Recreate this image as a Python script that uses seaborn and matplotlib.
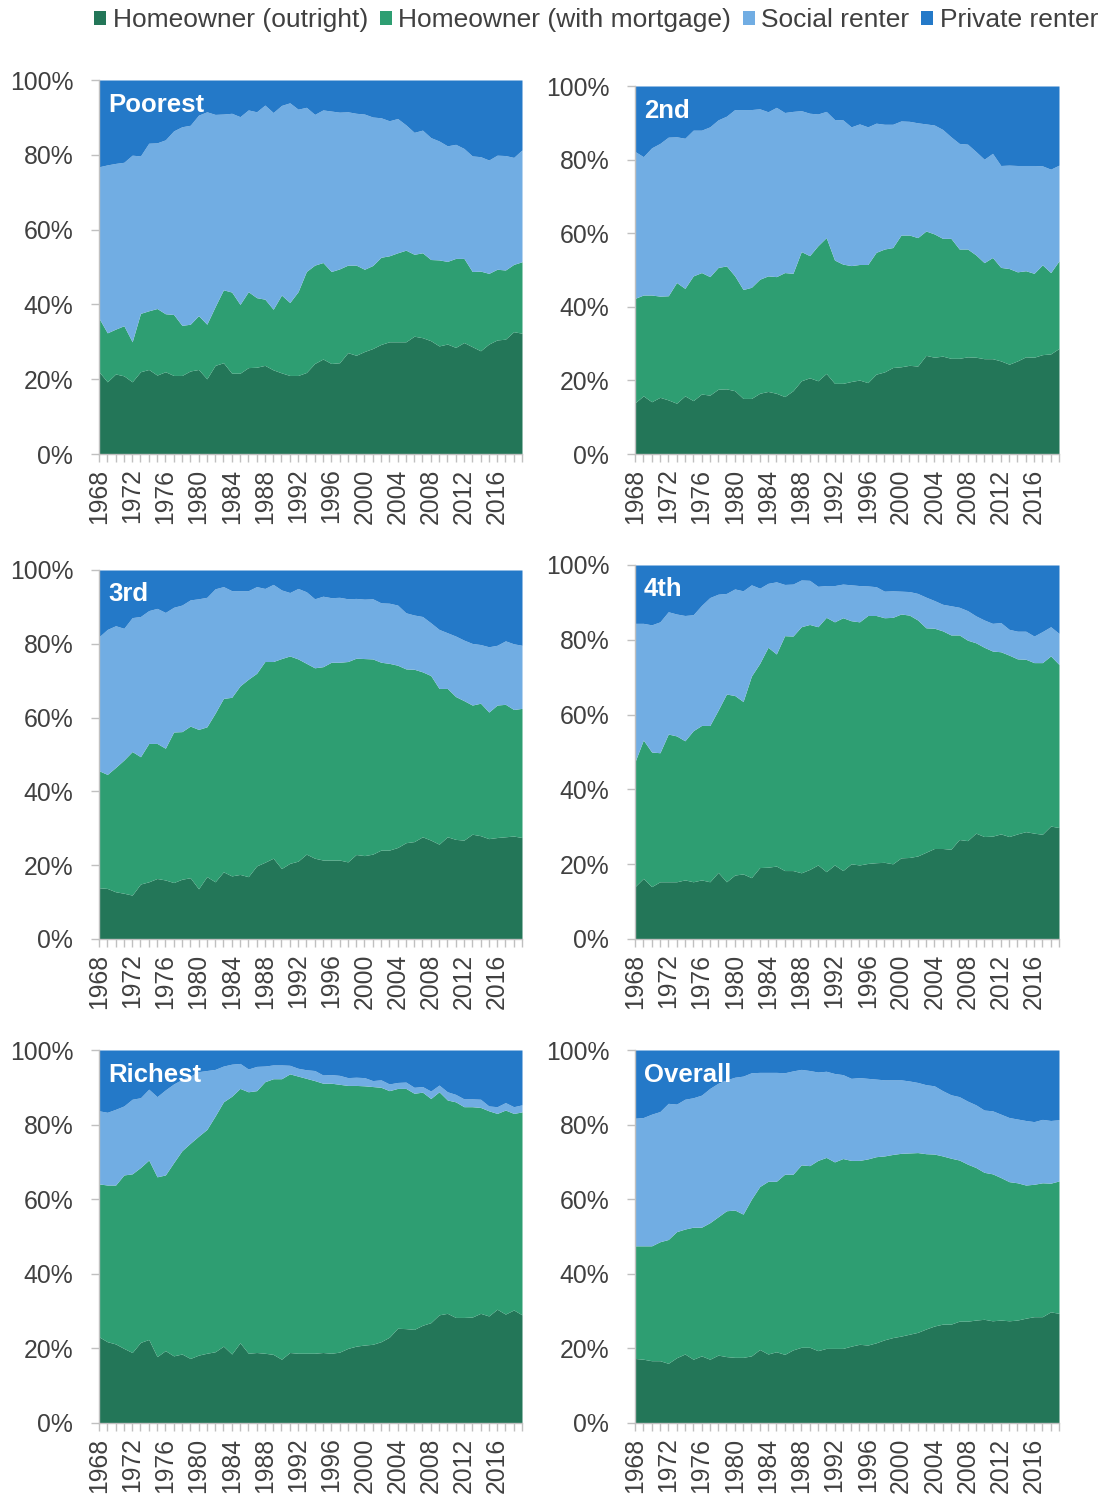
import matplotlib
matplotlib.use("Agg")
import matplotlib.pyplot as plt
import seaborn as sns
import pandas as pd
from matplotlib.patches import Patch
from matplotlib.ticker import MultipleLocator, FixedLocator

# Tenure shares (%) by income group, 1968-2019
years = list(range(1968, 2020))
tenures = ["Homeowner (outright)", "Homeowner (with mortgage)", "Social renter", "Private renter"]
colors = ["#237658", "#2e9e72", "#71ade3", "#2479c8"]

poorest_outright = [22.0, 19.3, 21.4, 20.9, 19.3, 22.0, 22.6, 21.1, 22.0, 21.0, 21.0, 22.2, 22.6, 20.1, 23.7, 24.4, 21.6, 21.6, 23.1, 23.2, 23.7, 22.5, 21.7, 21.0, 21.0, 21.8, 24.2, 25.4, 24.2, 24.4, 27.1, 26.4, 27.4, 28.2, 29.3, 30.0, 30.0, 30.0, 31.5, 31.1, 30.3, 28.9, 29.4, 28.5, 29.8, 28.7, 27.6, 29.4, 30.5, 30.7, 32.7, 32.3]
poorest_mortgage = [14.3, 13.1, 12.0, 13.4, 10.7, 15.6, 15.7, 17.8, 15.5, 16.3, 13.4, 12.5, 14.4, 14.6, 15.7, 19.5, 21.7, 18.4, 20.3, 18.6, 17.7, 16.2, 20.8, 19.5, 22.4, 27.0, 26.3, 25.8, 24.6, 25.1, 23.4, 24.1, 22.0, 22.2, 23.3, 23.0, 23.8, 24.5, 21.9, 22.7, 21.7, 23.0, 22.1, 23.8, 22.5, 20.1, 21.3, 18.9, 18.9, 18.5, 18.0, 19.1]
poorest_social = [40.5, 44.9, 44.3, 43.7, 49.9, 42.1, 44.8, 44.3, 46.5, 49.1, 53.1, 53.2, 53.6, 56.8, 51.4, 47.0, 47.8, 50.2, 48.6, 49.7, 51.9, 52.6, 50.7, 53.4, 48.8, 43.9, 40.3, 40.8, 42.9, 41.9, 41.0, 40.6, 41.5, 39.7, 37.3, 36.1, 35.9, 33.5, 32.6, 32.8, 32.6, 31.8, 30.9, 30.5, 29.4, 30.9, 30.6, 30.3, 30.5, 30.6, 28.6, 29.9]
poorest_private = [23.2, 22.7, 22.3, 22.0, 20.1, 20.3, 16.9, 16.8, 16.0, 13.6, 12.5, 12.1, 9.4, 8.5, 9.2, 9.1, 8.9, 9.8, 8.0, 8.5, 6.7, 8.7, 6.8, 6.1, 7.8, 7.3, 9.2, 8.0, 8.3, 8.6, 8.5, 8.9, 9.1, 9.9, 10.1, 10.9, 10.3, 12.0, 14.0, 13.4, 15.4, 16.3, 17.6, 17.2, 18.3, 20.3, 20.5, 21.4, 20.1, 20.2, 20.7, 18.7]

second_outright = [13.9, 15.8, 14.2, 15.4, 14.7, 13.8, 15.8, 14.5, 16.3, 16.0, 17.6, 17.7, 17.2, 15.1, 15.1, 16.5, 17.0, 16.5, 15.6, 17.2, 19.9, 20.7, 19.9, 21.9, 19.2, 19.2, 19.7, 20.1, 19.4, 21.7, 22.3, 23.5, 23.7, 24.1, 23.9, 26.8, 26.3, 26.6, 26.0, 26.0, 26.4, 26.3, 25.9, 25.9, 25.3, 24.4, 25.3, 26.4, 26.3, 27.0, 27.2, 28.7]
second_mortgage = [28.4, 27.4, 29.0, 27.5, 28.3, 32.8, 29.2, 33.9, 33.0, 32.2, 33.1, 33.4, 31.2, 29.6, 30.2, 31.0, 31.4, 31.7, 33.7, 31.9, 35.1, 33.2, 36.7, 36.9, 33.5, 32.4, 31.5, 31.4, 32.1, 33.1, 33.4, 32.6, 35.8, 35.4, 34.9, 33.8, 33.5, 32.0, 32.6, 29.7, 29.3, 27.8, 26.1, 27.5, 25.4, 26.0, 24.2, 23.4, 22.8, 24.4, 22.1, 23.8]
second_social = [39.9, 37.6, 40.0, 41.5, 43.1, 39.6, 40.8, 39.6, 38.7, 40.7, 40.1, 40.7, 45.2, 48.9, 48.3, 46.3, 44.6, 46.0, 43.5, 44.0, 38.3, 38.7, 35.8, 34.3, 38.2, 39.2, 37.7, 38.2, 37.4, 35.1, 33.9, 33.5, 31.0, 30.9, 31.2, 29.1, 29.6, 29.6, 27.6, 28.7, 28.5, 28.1, 28.1, 28.3, 27.7, 28.1, 28.9, 28.6, 29.3, 26.9, 28.1, 26.0]
second_private = [17.8, 19.2, 16.8, 15.6, 13.9, 13.8, 14.2, 12.0, 12.0, 11.1, 9.2, 8.2, 6.4, 6.4, 6.4, 6.2, 7.0, 5.8, 7.2, 6.9, 6.7, 7.4, 7.6, 6.9, 9.1, 9.2, 11.1, 10.3, 11.1, 10.1, 10.4, 10.4, 9.5, 9.6, 10.0, 10.3, 10.6, 11.8, 13.8, 15.6, 15.8, 17.8, 19.9, 18.3, 21.6, 21.5, 21.6, 21.6, 21.6, 21.7, 22.6, 21.5]

third_outright = [13.9, 13.7, 12.8, 12.4, 11.9, 14.9, 15.5, 16.4, 16.0, 15.3, 16.2, 16.6, 13.6, 16.9, 15.5, 18.2, 17.1, 17.5, 16.9, 19.8, 20.8, 21.9, 19.1, 20.5, 21.1, 23.0, 21.9, 21.4, 21.4, 21.4, 20.9, 22.9, 22.6, 23.0, 24.1, 24.1, 24.8, 26.1, 26.4, 27.7, 26.8, 25.7, 27.7, 27.0, 26.8, 28.4, 28.0, 27.2, 27.5, 27.7, 27.9, 27.5]
third_mortgage = [31.7, 30.9, 33.7, 36.1, 38.9, 34.5, 37.5, 36.6, 35.7, 40.8, 40.0, 41.1, 43.2, 40.6, 45.7, 47.0, 48.4, 51.1, 53.5, 52.2, 54.4, 53.3, 56.9, 56.2, 54.8, 51.7, 51.6, 52.4, 53.6, 53.6, 54.3, 53.2, 53.4, 52.9, 50.9, 50.6, 49.4, 47.1, 46.7, 44.7, 44.6, 42.2, 40.2, 38.7, 37.8, 35.0, 35.9, 34.3, 35.9, 35.9, 34.3, 35.0]
third_social = [36.3, 39.3, 38.4, 35.7, 36.3, 38.0, 36.0, 36.6, 36.8, 33.8, 34.3, 34.2, 35.4, 35.1, 33.7, 30.3, 28.9, 25.8, 24.0, 23.5, 19.8, 20.9, 18.6, 17.2, 19.1, 19.4, 18.7, 19.1, 17.5, 17.6, 17.0, 16.2, 16.1, 16.3, 16.1, 16.3, 16.3, 15.2, 14.7, 15.0, 14.3, 16.0, 15.1, 16.4, 16.4, 16.7, 15.9, 17.7, 16.2, 17.2, 17.8, 17.1]
third_private = [18.1, 16.1, 15.1, 15.8, 12.9, 12.6, 11.0, 10.4, 11.5, 10.1, 9.5, 8.1, 7.8, 7.4, 5.1, 4.5, 5.6, 5.6, 5.6, 4.5, 5.0, 3.9, 5.4, 6.1, 5.0, 5.9, 7.8, 7.1, 7.5, 7.4, 7.8, 7.7, 7.9, 7.8, 8.9, 9.0, 9.5, 11.6, 12.2, 12.6, 14.3, 16.1, 17.0, 17.9, 19.0, 19.9, 20.2, 20.8, 20.4, 19.2, 20.0, 20.4]

fourth_outright = [14.0, 16.2, 14.0, 15.3, 15.3, 15.3, 15.8, 15.3, 15.8, 15.3, 17.8, 15.3, 17.1, 17.4, 16.4, 19.1, 19.2, 19.5, 18.3, 18.3, 17.7, 18.6, 19.8, 18.0, 19.8, 18.3, 20.1, 19.8, 20.2, 20.4, 20.5, 20.1, 21.7, 21.8, 22.2, 23.2, 24.2, 24.2, 24.0, 26.6, 26.3, 28.3, 27.4, 27.5, 28.1, 27.4, 28.1, 28.7, 28.3, 28.0, 30.2, 29.8]
fourth_mortgage = [33.4, 37.0, 36.0, 34.5, 39.5, 39.0, 37.2, 40.4, 41.3, 41.8, 43.4, 50.2, 48.0, 46.1, 53.9, 54.6, 58.8, 56.7, 62.8, 62.7, 65.8, 65.5, 63.7, 68.0, 65.0, 67.6, 65.0, 65.0, 66.3, 66.1, 65.4, 65.9, 65.2, 64.8, 63.1, 60.0, 58.9, 58.2, 57.3, 54.7, 53.6, 50.9, 50.6, 49.5, 48.7, 48.5, 46.8, 46.1, 45.6, 45.9, 45.5, 43.6]
fourth_social = [37.0, 31.2, 34.0, 35.0, 32.7, 32.6, 33.5, 31.0, 32.1, 34.2, 31.0, 26.9, 28.5, 29.6, 24.4, 20.1, 17.1, 19.3, 13.7, 13.9, 12.5, 11.8, 10.8, 8.5, 9.7, 9.0, 9.6, 9.7, 7.9, 7.7, 7.1, 7.1, 6.1, 6.3, 7.1, 8.2, 7.4, 7.1, 7.8, 7.4, 7.9, 7.2, 7.3, 7.4, 7.8, 6.9, 7.4, 7.5, 7.1, 8.3, 7.8, 8.3]
fourth_private = [15.6, 15.6, 16.0, 15.2, 12.5, 13.1, 13.5, 13.3, 10.8, 8.7, 7.8, 7.6, 6.4, 6.9, 5.3, 6.2, 4.9, 4.5, 5.2, 5.1, 4.0, 4.1, 5.7, 5.5, 5.5, 5.1, 5.3, 5.5, 5.6, 5.8, 7.0, 6.9, 7.0, 7.1, 7.6, 8.6, 9.5, 10.5, 10.9, 11.3, 12.2, 13.6, 14.7, 15.6, 15.4, 17.2, 17.7, 17.7, 19.0, 17.8, 16.5, 18.3]

richest_outright = [23.1, 21.8, 21.2, 20.0, 18.9, 21.6, 22.4, 17.8, 19.4, 18.0, 18.5, 17.3, 18.2, 18.7, 19.1, 20.6, 18.5, 21.5, 18.7, 18.9, 18.7, 18.4, 17.1, 18.9, 18.7, 18.7, 18.7, 18.9, 18.7, 19.0, 20.0, 20.6, 20.9, 21.1, 21.8, 23.0, 25.4, 25.3, 25.1, 26.2, 26.9, 29.0, 29.4, 28.3, 28.3, 28.4, 29.4, 28.7, 30.5, 29.2, 30.3, 29.0]
richest_mortgage = [41.0, 42.0, 42.6, 46.5, 47.9, 46.9, 48.1, 48.2, 47.1, 51.8, 54.5, 57.7, 58.7, 60.0, 63.2, 65.5, 69.1, 68.2, 70.1, 70.2, 72.8, 73.9, 75.2, 74.7, 74.3, 73.7, 73.1, 72.2, 72.4, 71.8, 70.5, 69.9, 69.5, 69.1, 68.2, 66.1, 64.3, 64.4, 63.3, 62.5, 60.1, 59.8, 57.2, 57.8, 56.5, 56.4, 55.2, 55.0, 52.5, 54.7, 52.7, 54.4]
richest_social = [19.6, 19.5, 20.3, 18.5, 20.0, 18.7, 19.0, 21.5, 22.8, 21.1, 19.1, 18.0, 17.3, 15.8, 12.5, 9.6, 8.6, 6.7, 6.1, 6.5, 4.2, 3.7, 3.7, 2.3, 2.1, 2.3, 2.7, 2.2, 2.3, 2.4, 2.1, 2.2, 2.2, 1.6, 2.0, 1.8, 1.6, 1.7, 1.6, 1.5, 2.0, 1.8, 2.2, 2.0, 2.1, 2.1, 2.2, 1.3, 1.8, 2.0, 1.8, 1.9]
richest_private = [16.3, 16.7, 15.9, 15.0, 13.2, 12.8, 10.5, 12.5, 10.7, 9.1, 7.9, 7.0, 5.8, 5.5, 5.2, 4.3, 3.8, 3.6, 5.1, 4.4, 4.3, 4.0, 4.0, 4.1, 4.9, 5.3, 5.5, 6.7, 6.6, 6.8, 7.4, 7.3, 7.4, 8.2, 8.0, 9.1, 8.7, 8.6, 10.0, 9.8, 11.0, 9.4, 11.2, 11.9, 13.1, 13.1, 13.2, 15.0, 15.2, 14.1, 15.2, 14.7]

overall_outright = [17.3, 17.1, 16.7, 16.7, 16.0, 17.5, 18.5, 17.1, 18.0, 17.1, 18.2, 17.8, 17.6, 17.6, 18.0, 19.7, 18.5, 19.1, 18.4, 19.6, 20.3, 20.3, 19.4, 20.0, 20.0, 20.0, 20.6, 21.1, 20.9, 21.5, 22.3, 22.9, 23.3, 23.8, 24.3, 25.2, 26.0, 26.5, 26.5, 27.3, 27.3, 27.6, 27.8, 27.4, 27.6, 27.4, 27.6, 28.1, 28.5, 28.5, 29.8, 29.4]
overall_mortgage = [30.2, 30.4, 30.8, 31.9, 33.2, 33.8, 33.5, 35.4, 34.5, 36.6, 37.1, 39.1, 39.5, 38.4, 42.0, 43.7, 46.3, 45.7, 48.3, 47.1, 48.9, 48.7, 51.0, 51.2, 50.0, 50.9, 49.8, 49.3, 49.9, 49.9, 49.3, 49.1, 49.0, 48.6, 48.2, 47.0, 46.1, 45.1, 44.5, 43.2, 42.1, 40.9, 39.4, 39.4, 38.2, 37.3, 36.8, 35.7, 35.5, 35.9, 34.5, 35.5]
overall_social = [34.2, 34.4, 35.3, 34.9, 36.5, 34.2, 34.8, 34.7, 35.4, 36.0, 35.8, 35.1, 35.6, 37.0, 33.9, 30.6, 29.2, 29.2, 27.2, 27.7, 25.6, 25.5, 23.7, 23.1, 23.7, 22.5, 22.0, 22.2, 21.6, 20.8, 20.4, 20.0, 19.7, 19.3, 18.8, 18.5, 18.3, 17.5, 17.0, 17.0, 16.9, 16.8, 16.7, 16.9, 17.0, 17.2, 17.1, 17.3, 16.8, 17.0, 16.8, 16.4]
overall_private = [18.3, 18.1, 17.2, 16.5, 14.3, 14.5, 13.2, 12.8, 12.1, 10.3, 8.9, 8.0, 7.3, 7.0, 6.1, 6.0, 6.0, 6.0, 6.1, 5.6, 5.2, 5.5, 5.9, 5.7, 6.3, 6.6, 7.6, 7.4, 7.6, 7.8, 8.0, 8.0, 8.0, 8.3, 8.7, 9.3, 9.6, 10.9, 12.0, 12.5, 13.7, 14.7, 16.1, 16.3, 17.2, 18.1, 18.5, 18.9, 19.2, 18.6, 18.9, 18.7]

panel_names = ["Poorest", "2nd", "3rd", "4th", "Richest", "Overall"]
panel_series = [
    [poorest_outright, poorest_mortgage, poorest_social, poorest_private],
    [second_outright, second_mortgage, second_social, second_private],
    [third_outright, third_mortgage, third_social, third_private],
    [fourth_outright, fourth_mortgage, fourth_social, fourth_private],
    [richest_outright, richest_mortgage, richest_social, richest_private],
    [overall_outright, overall_mortgage, overall_social, overall_private],
]

# pixel boxes of each panel in the 1106x1499 figure: x0, y0 (top), x1, y1 (bottom)
W, H = 1106, 1499
boxes = [(99, 80, 522, 454), (635, 86, 1059, 454),
         (99, 570, 522, 939), (635, 565, 1059, 939),
         (99, 1050, 522, 1423), (635, 1050, 1059, 1423)]

sns.set_theme(style="white")
plt.rcParams["font.family"] = ["Liberation Sans", "DejaVu Sans"]
text_col = "#404040"
axis_col = "#c0c0c0"

fig = plt.figure(figsize=(W / 100, H / 100), dpi=100)

for name, series, (x0, y0, x1, y1) in zip(panel_names, panel_series, boxes):
    ax = fig.add_axes([x0 / W, 1 - y1 / H, (x1 - x0) / W, (y1 - y0) / H])
    df = pd.DataFrame(dict(zip(tenures, series)), index=years)
    ax.stackplot(df.index, df.T.values, colors=colors, linewidth=0)
    ax.set_xlim(years[0], years[-1])
    ax.set_ylim(0, 100)

    ax.yaxis.set_major_locator(MultipleLocator(20))
    ax.set_yticklabels([f"{int(v)}%" for v in ax.get_yticks()])
    ax.xaxis.set_major_locator(FixedLocator(list(range(1968, 2017, 4))))
    ax.xaxis.set_minor_locator(MultipleLocator(1))
    ax.set_xticklabels([str(y) for y in range(1968, 2017, 4)], rotation=90)

    ax.tick_params(axis="y", which="major", length=5.5, width=1, color=axis_col,
                   labelsize=17.8, labelcolor=text_col, pad=13, left=True)
    ax.tick_params(axis="x", which="both", length=5.5, width=1, color=axis_col,
                   labelsize=17.8, labelcolor=text_col, pad=5, bottom=True)
    for side in ["top", "right"]:
        ax.spines[side].set_visible(False)
    for side in ["left", "bottom"]:
        ax.spines[side].set_color(axis_col)
        ax.spines[side].set_linewidth(1)
    ax.grid(False)

    ax.annotate(name, xy=(0, 1), xycoords="axes fraction", xytext=(6.5, -9),
                textcoords="offset points", ha="left", va="top",
                fontsize=18.5, fontweight="bold", color="white")

handles = [Patch(facecolor=c, edgecolor="none") for c in colors]
fig.legend(handles, tenures, loc="upper center", bbox_to_anchor=(0.539, 0.998),
           ncol=4, frameon=False, fontsize=19, handlelength=0.45, handleheight=0.45,
           handletextpad=0.25, columnspacing=0.45, borderaxespad=0.1, borderpad=0.1,
           labelcolor=text_col)

fig.savefig("out.png", dpi=100)
